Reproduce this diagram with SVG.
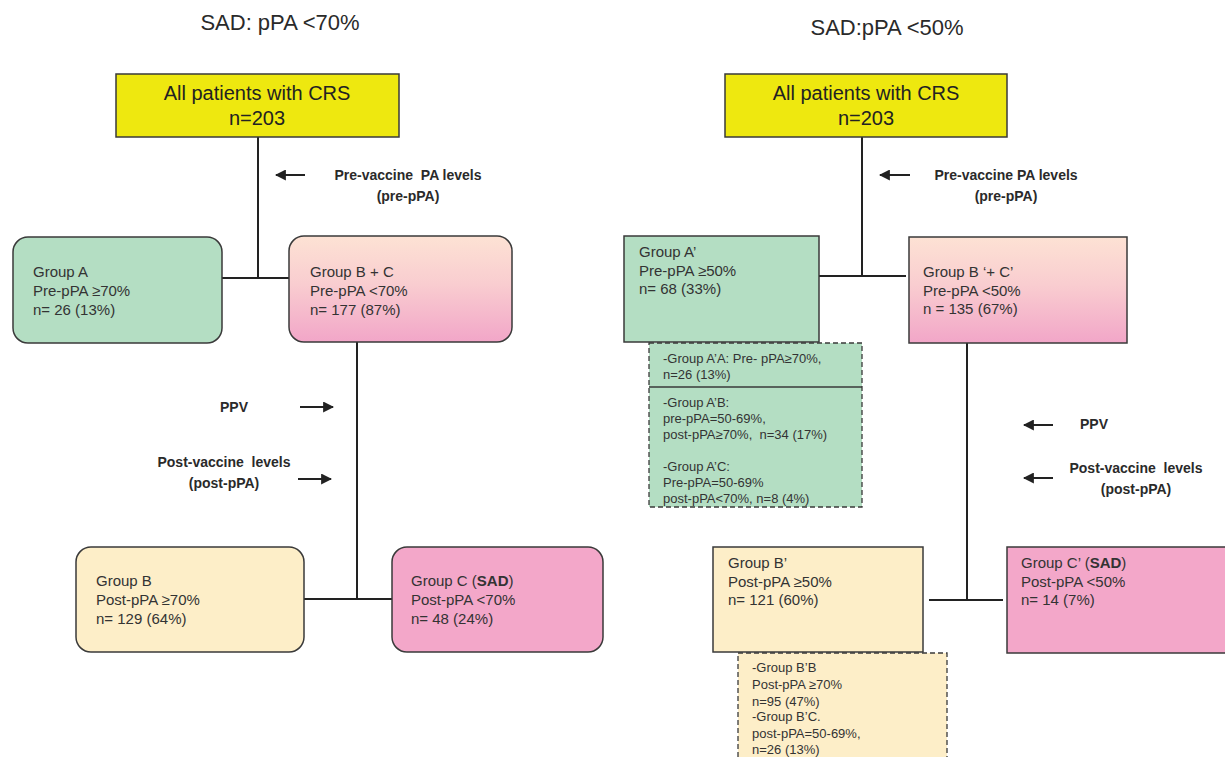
<svg xmlns="http://www.w3.org/2000/svg" width="1225" height="757" viewBox="0 0 1225 757">
<style>
.title{font-family:"Liberation Sans",Arial,sans-serif;font-size:22px;fill:#2a2a2a}
.main{font-family:"Liberation Sans",Arial,sans-serif;font-size:20px;fill:#222;text-anchor:middle}
.t{font-family:"Liberation Sans",Arial,sans-serif;font-size:15px;fill:#333}
.s{font-family:"Liberation Sans",Arial,sans-serif;font-size:13px;fill:#333}
.lab{font-family:"Liberation Sans",Arial,sans-serif;font-size:14px;font-weight:bold;fill:#2a2a2a;text-anchor:middle;white-space:pre}
.box{stroke:#3a3a3a;stroke-width:1.5}
.dash{stroke:#3a3a3a;stroke-width:1.3;stroke-dasharray:5,3}
.ln{stroke:#222;stroke-width:2;fill:none}
.arr{stroke:#222;stroke-width:2;fill:none;marker-end:url(#ah)}
.yel{fill:#eee80f}
.grn{fill:#b4dec3}
.crm{fill:#fdeec8}
.pnk{fill:#f3a7c9}
</style>
<defs>
<marker id="ah" viewBox="0 0 10 10" refX="9" refY="5" markerWidth="5.5" markerHeight="5.5" orient="auto" markerUnits="strokeWidth">
<path d="M0,0 L10,5 L0,10 z" fill="#222"/>
</marker>
<linearGradient id="pg" x1="0" y1="0" x2="0" y2="1">
<stop offset="0" stop-color="#fde2d4"/>
<stop offset="0.45" stop-color="#f9cdd0"/>
<stop offset="1" stop-color="#f2a6c8"/>
</linearGradient>
</defs>

<text class="title" x="280" y="30" text-anchor="middle">SAD: pPA &lt;70%</text>
<text class="title" x="887" y="35" text-anchor="middle">SAD:pPA &lt;50%</text>

<g id="connectors">
<line class="ln" x1="258" y1="137" x2="258" y2="278"/>
<line class="ln" x1="222" y1="278" x2="290" y2="278"/>
<line class="ln" x1="357" y1="342" x2="357" y2="599"/>
<line class="ln" x1="304" y1="599" x2="392" y2="599"/>
<line class="arr" x1="305" y1="175" x2="276" y2="175"/>
<line class="arr" x1="300" y1="407" x2="333" y2="407"/>
<line class="arr" x1="298" y1="479" x2="331" y2="479"/>

<line class="ln" x1="862" y1="137" x2="862" y2="276"/>
<line class="ln" x1="819" y1="276" x2="906" y2="276"/>
<line class="ln" x1="967" y1="343" x2="967" y2="600"/>
<line class="ln" x1="929" y1="600" x2="1003" y2="600"/>
<line class="arr" x1="910" y1="175" x2="880" y2="175"/>
<line class="arr" x1="1053" y1="425" x2="1024" y2="425"/>
<line class="arr" x1="1053" y1="478" x2="1024" y2="478"/>
</g>

<g id="labels">
<text class="lab" x="408" y="180">Pre-vaccine  PA levels</text>
<text class="lab" x="408" y="201">(pre-pPA)</text>
<text class="lab" x="234" y="412">PPV</text>
<text class="lab" x="224" y="467">Post-vaccine  levels</text>
<text class="lab" x="224" y="488">(post-pPA)</text>

<text class="lab" x="1006" y="180">Pre-vaccine PA levels</text>
<text class="lab" x="1006" y="201">(pre-pPA)</text>
<text class="lab" x="1094" y="429">PPV</text>
<text class="lab" x="1136" y="473">Post-vaccine  levels</text>
<text class="lab" x="1136" y="494">(post-pPA)</text>
</g>

<g id="all-left">
<rect class="box yel" x="116" y="74" width="283" height="63"/>
<text class="main" x="257" y="100">All patients with CRS</text>
<text class="main" x="257" y="125">n=203</text>
</g>

<g id="groupA">
<rect class="box grn" x="13" y="237" width="209" height="106" rx="15"/>
<text class="t" x="33" y="277">Group A</text>
<text class="t" x="33" y="296">Pre-pPA ≥70%</text>
<text class="t" x="33" y="315">n= 26 (13%)</text>
</g>

<g id="groupBC">
<rect class="box" fill="url(#pg)" x="289" y="236" width="223" height="106" rx="15"/>
<text class="t" x="310" y="277">Group B + C</text>
<text class="t" x="310" y="296">Pre-pPA &lt;70%</text>
<text class="t" x="310" y="315">n= 177 (87%)</text>
</g>

<g id="groupB">
<rect class="box crm" x="76" y="547" width="228" height="105" rx="15"/>
<text class="t" x="96" y="586">Group B</text>
<text class="t" x="96" y="605">Post-pPA ≥70%</text>
<text class="t" x="96" y="624">n= 129 (64%)</text>
</g>

<g id="groupC">
<rect class="box pnk" x="392" y="547" width="211" height="105" rx="15"/>
<text class="t" x="411" y="586">Group C (<tspan font-weight="bold">SAD</tspan>)</text>
<text class="t" x="411" y="605">Post-pPA &lt;70%</text>
<text class="t" x="411" y="624">n= 48 (24%)</text>
</g>

<g id="all-right">
<rect class="box yel" x="725" y="74" width="282" height="63"/>
<text class="main" x="866" y="100">All patients with CRS</text>
<text class="main" x="866" y="125">n=203</text>
</g>

<g id="groupA2">
<rect class="box grn" x="624" y="236" width="195" height="106"/>
<text class="t" x="639" y="257">Group A’</text>
<text class="t" x="639" y="276">Pre-pPA ≥50%</text>
<text class="t" x="639" y="294">n= 68 (33%)</text>
</g>

<g id="groupA2-sub">
<rect class="dash grn" x="649" y="343" width="213" height="164"/>
<line x1="649" y1="387" x2="862" y2="387" stroke="#3a3a3a" stroke-width="1.3"/>
<text class="s" x="663" y="363">-Group A’A: Pre- pPA≥70%,</text>
<text class="s" x="663" y="379">n=26 (13%)</text>
<text class="s" x="663" y="407">-Group A’B:</text>
<text class="s" x="663" y="423">pre-pPA=50-69%,</text>
<text class="s" x="663" y="439" xml:space="preserve">post-pPA≥70%,  n=34 (17%)</text>
<text class="s" x="663" y="471">-Group A’C:</text>
<text class="s" x="663" y="487">Pre-pPA=50-69%</text>
<text class="s" x="663" y="503">post-pPA&lt;70%, n=8 (4%)</text>
</g>

<g id="groupBC2">
<rect class="box" fill="url(#pg)" x="909" y="237" width="218" height="106"/>
<text class="t" x="923" y="277">Group B ‘+ C’</text>
<text class="t" x="923" y="296">Pre-pPA &lt;50%</text>
<text class="t" x="923" y="314">n = 135 (67%)</text>
</g>

<g id="groupB2">
<rect class="box crm" x="713" y="547" width="210" height="105"/>
<text class="t" x="728" y="568">Group B’</text>
<text class="t" x="728" y="587">Post-pPA ≥50%</text>
<text class="t" x="728" y="605">n= 121 (60%)</text>
</g>

<g id="groupB2-sub">
<path class="dash crm" d="M738,765 V653 H947 V765"/>
<text class="s" x="752" y="672">-Group B’B</text>
<text class="s" x="752" y="689">Post-pPA ≥70%</text>
<text class="s" x="752" y="706">n=95 (47%)</text>
<text class="s" x="752" y="721">-Group B’C.</text>
<text class="s" x="752" y="738">post-pPA=50-69%,</text>
<text class="s" x="752" y="754">n=26 (13%)</text>
</g>

<g id="groupC2">
<rect class="box pnk" x="1007" y="547" width="230" height="106"/>
<text class="t" x="1021" y="568">Group C’ (<tspan font-weight="bold">SAD</tspan>)</text>
<text class="t" x="1021" y="587">Post-pPA &lt;50%</text>
<text class="t" x="1021" y="605">n= 14 (7%)</text>
</g>
</svg>
